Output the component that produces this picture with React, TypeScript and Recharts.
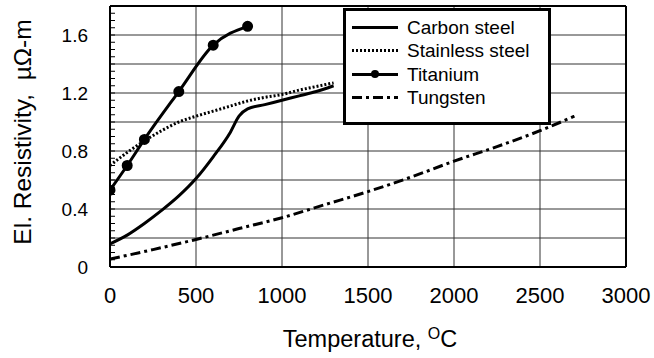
import { CartesianGrid, Legend, Line, LineChart, XAxis, YAxis } from 'recharts'

// temperatures (°C) and resistivity (µΩ·m)
const carbonTemp = [0, 100, 200, 300, 400, 500, 600, 700, 750, 800, 900, 1000, 1100, 1200, 1300]
const carbonRes = [0.16, 0.22, 0.3, 0.39, 0.49, 0.61, 0.76, 0.93, 1.04, 1.09, 1.12, 1.15, 1.18, 1.21, 1.25]

const stainlessTemp = [0, 100, 200, 300, 400, 500, 600, 700, 800, 900, 1000, 1100, 1200, 1300]
const stainlessRes = [0.7, 0.79, 0.87, 0.94, 1.0, 1.04, 1.075, 1.11, 1.145, 1.17, 1.19, 1.22, 1.245, 1.27]

const titaniumTemp = [0, 100, 200, 400, 600, 800]
const titaniumRes = [0.53, 0.7, 0.88, 1.21, 1.53, 1.66]

const tungstenTemp = [0, 250, 500, 750, 1000, 1250, 1500, 1750, 2000, 2250, 2500, 2700]
const tungstenRes = [0.055, 0.12, 0.19, 0.265, 0.34, 0.43, 0.52, 0.62, 0.73, 0.83, 0.94, 1.04]

const xTicks = [0, 500, 1000, 1500, 2000, 2500, 3000]
const yTicks = [0, 0.4, 0.8, 1.2, 1.6]
const yGrid = [0.2, 0.4, 0.6, 0.8, 1.0, 1.2, 1.4, 1.6, 1.8]
const xMinor = Array.from({ length: 31 }, (_, i) => i * 100)
const yMinor = Array.from({ length: 37 }, (_, i) => +(i * 0.05).toFixed(2))

const toRows = (xs: number[], ys: number[]) => xs.map((x, i) => ({ x, y: ys[i] }))

const series = [
  { name: 'Carbon steel', data: toRows(carbonTemp, carbonRes), dash: undefined, dot: false },
  { name: 'Stainless steel', data: toRows(stainlessTemp, stainlessRes), dash: '2 2', dot: false },
  { name: 'Titanium', data: toRows(titaniumTemp, titaniumRes), dash: undefined, dot: true },
  { name: 'Tungsten', data: toRows(tungstenTemp, tungstenRes), dash: '10 4 3 4', dot: false },
]

// css stand-ins for the line samples in the legend box
const sampleBg: Record<string, string> = {
  'Carbon steel': '#000',
  'Stainless steel': 'repeating-linear-gradient(to right, #000 0 2px, transparent 2px 4px)',
  Titanium: '#000',
  Tungsten:
    'repeating-linear-gradient(to right, #000 0 10px, transparent 10px 14px, #000 14px 17px, transparent 17px 21px)',
}

function LegendBox() {
  return (
    <div
      style={{
        width: 196,
        height: 106,
        border: '3px solid #000',
        background: '#fff',
        padding: '5px 0 0 6px',
        boxSizing: 'content-box',
        fontSize: 19,
        color: '#000',
      }}
    >
      {series.map((s) => (
        <div key={s.name} style={{ display: 'flex', alignItems: 'center', height: 23.3 }}>
          <div style={{ position: 'relative', width: 46, height: 3, marginRight: 9, background: sampleBg[s.name] }}>
            {s.dot && (
              <div
                style={{ position: 'absolute', left: 19, top: -2.5, width: 8, height: 8, borderRadius: 4, background: '#000' }}
              />
            )}
          </div>
          <span style={{ lineHeight: '23px' }}>{s.name}</span>
        </div>
      ))}
    </div>
  )
}

const noTick = () => <g />

export default function App() {
  return (
    <div
      style={{
        position: 'absolute',
        left: 0,
        top: 0,
        width: 654,
        height: 358,
        background: '#fff',
        color: '#000',
        fontFamily: 'Liberation Sans, Arial, sans-serif',
      }}
    >
      <LineChart width={654} height={358} margin={{ top: 6, right: 28, left: 0, bottom: 0 }}>
        <CartesianGrid stroke="#333" horizontalValues={yGrid} verticalValues={xTicks} />
        <XAxis
          dataKey="x"
          type="number"
          domain={[0, 3000]}
          ticks={xTicks}
          height={91}
          tickSize={0}
          tickMargin={20}
          tickLine={false}
          axisLine={{ stroke: '#000', strokeWidth: 2 }}
          tick={{ fill: '#000', fontSize: 22 }}
          allowDataOverflow
        />
        <XAxis
          xAxisId="minor"
          type="number"
          domain={[0, 3000]}
          ticks={xMinor}
          interval={0}
          mirror
          axisLine={false}
          tickSize={6}
          tickLine={{ stroke: '#000' }}
          tick={noTick}
          allowDataOverflow
        />
        <XAxis
          xAxisId="top"
          orientation="top"
          type="number"
          domain={[0, 3000]}
          mirror
          axisLine={{ stroke: '#000', strokeWidth: 2 }}
          tickLine={false}
          tick={false}
          allowDataOverflow
        />
        <YAxis
          type="number"
          domain={[0, 1.8]}
          ticks={yTicks}
          width={110}
          tickSize={0}
          tickMargin={22}
          tickLine={false}
          axisLine={{ stroke: '#000', strokeWidth: 2 }}
          tick={{ fill: '#000', fontSize: 19 }}
          tickFormatter={(v: number) => (v === 0 ? '0' : v.toFixed(1))}
          allowDataOverflow
        />
        <YAxis
          yAxisId="minor"
          type="number"
          domain={[0, 1.8]}
          ticks={yMinor}
          interval={0}
          mirror
          axisLine={false}
          tickSize={5}
          tickLine={{ stroke: '#000' }}
          tick={noTick}
          allowDataOverflow
        />
        <YAxis
          yAxisId="right"
          orientation="right"
          type="number"
          domain={[0, 1.8]}
          mirror
          axisLine={{ stroke: '#000', strokeWidth: 2 }}
          tickLine={false}
          tick={false}
          allowDataOverflow
        />
        {series.map((s) => (
          <Line
            key={s.name}
            name={s.name}
            data={s.data}
            dataKey="y"
            type="monotone"
            stroke="#000"
            strokeWidth={3}
            strokeDasharray={s.dash}
            dot={s.dot ? { r: 4, fill: '#000' } : false}
            activeDot={false}
            isAnimationActive={false}
          />
        ))}
        <Legend
          layout="vertical"
          align="center"
          verticalAlign="middle"
          content={() => <LegendBox />}
          wrapperStyle={{ position: 'absolute', left: 343, top: 8, width: 'auto', height: 'auto' }}
        />
      </LineChart>
      {/* axis titles */}
      <div
        style={{
          position: 'absolute',
          left: 23,
          top: 131.5,
          transform: 'translate(-50%, -50%) rotate(-90deg)',
          whiteSpace: 'nowrap',
          fontSize: 24.5,
          lineHeight: 1,
        }}
      >
        El. Resistivity,&nbsp; µΩ-m
      </div>
      <div
        style={{
          position: 'absolute',
          left: 370,
          top: 328,
          transform: 'translateX(-50%)',
          whiteSpace: 'nowrap',
          fontSize: 23.5,
          lineHeight: 1,
        }}
      >
        Temperature, <span style={{ fontSize: 16, position: 'relative', top: -8 }}>O</span>C
      </div>
    </div>
  )
}
